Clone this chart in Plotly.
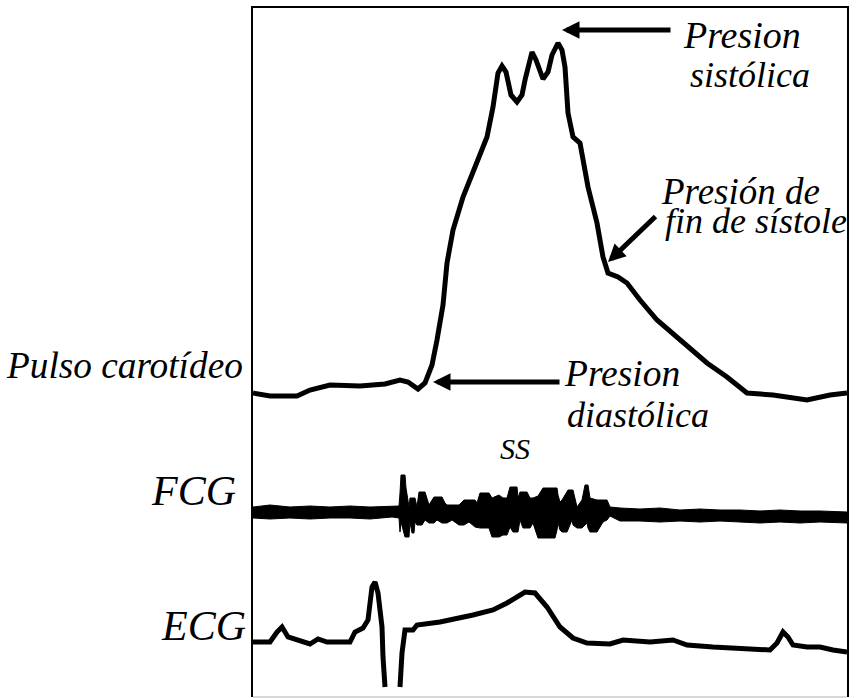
import plotly.graph_objects as go

# Time axis (ms-like sample units) shared by the three recordings
# Carotid pulse
pulse_t = [3, 20, 47, 60, 80, 110, 135, 150, 158, 168, 175, 182, 187, 193, 197, 203,
           213, 227, 237, 243, 248, 252, 256, 261, 267, 272, 275, 282, 286, 293, 298,
           302, 308, 312, 315, 318, 323, 330, 338, 347, 353, 358, 368, 377, 390, 407,
           430, 457, 477, 497, 523, 557, 580, 597]
pulse_v = [307, 304, 304, 310, 315, 314, 316, 320, 318, 311, 317, 335, 360, 395, 437, 470,
           503, 537, 563, 593, 627, 634, 628, 605, 598, 605, 620, 648, 640, 621, 628,
           645, 657, 650, 633, 587, 563, 557, 513, 477, 443, 427, 423, 417, 400, 380,
           360, 337, 323, 307, 305, 300, 305, 307]

# Phonocardiogram: upper and lower envelope of the recorded vibrations
fcg_t = [3, 20, 40, 60, 80, 100, 120, 142, 149, 150, 151, 155, 156, 159, 160, 162, 164,
         165, 167, 169, 172, 175, 179, 184, 187, 192, 195, 197, 202, 209, 214, 219, 225,
         227, 230, 239, 242, 249, 253, 257, 260, 263, 267, 268, 270, 273, 277, 280, 283,
         288, 293, 297, 305, 307, 308, 310, 312, 317, 318, 322, 323, 327, 332, 335, 337,
         338, 340, 347, 353, 357, 360, 370, 390, 410, 430, 450, 470, 490, 510, 530, 550,
         570, 597]
fcg_upper = [193, 195, 193, 194, 193, 194, 193, 194, 194, 207, 225, 225, 212, 193, 202, 202, 202,
             202, 193, 208, 208, 208, 195, 203, 203, 203, 197, 195, 195, 195, 200, 200, 200,
             197, 207, 207, 202, 205, 202, 202, 213, 213, 213, 202, 208, 208, 208, 202, 202,
             204, 212, 212, 212, 212, 205, 198, 200, 208, 210, 210, 210, 193, 200, 215, 215,
             215, 202, 200, 200, 200, 193, 192, 191, 192, 190, 191, 190, 190, 189, 190, 189,
             189, 188]
fcg_lower = [182, 181, 182, 181, 182, 182, 181, 183, 182, 168, 178, 163, 163, 163, 178, 167, 167,
             178, 175, 175, 175, 180, 177, 177, 180, 177, 177, 177, 180, 175, 175, 178, 173,
             173, 172, 172, 163, 163, 165, 165, 173, 168, 168, 168, 180, 172, 172, 172, 177,
             162, 162, 162, 162, 170, 177, 170, 168, 168, 170, 180, 175, 172, 172, 175, 177,
             172, 168, 168, 178, 180, 184, 179, 179, 178, 179, 178, 179, 178, 177, 178, 177,
             178, 177]

# Electrocardiogram (the S wave runs off the strip, hence the gap)
ecg_t = [3, 20, 27, 32, 38, 47, 60, 68, 77, 100, 105, 113, 118, 122, 125, 128, 132, 133, 135,
         None, 150, 152, 155, 163, 167, 190, 223, 243, 257, 275, 285, 297, 310, 323, 337,
         360, 373, 400, 423, 437, 463, 490, 520, 527, 533, 538, 543, 557, 570, 583, 597]
ecg_v = [58, 58, 68, 73, 63, 60, 56, 61, 58, 58, 68, 72, 80, 113, 118, 107, 73, 43, 13,
         None, 13, 47, 70, 70, 75, 78, 85, 90, 97, 108, 107, 93, 73, 62, 57,
         56, 60, 58, 60, 55, 53, 52, 50, 57, 68, 63, 55, 53, 53, 50, 48]

X_RANGE = [3, 597]
Y_RANGE = [3, 692]
FONT = "Liberation Serif, Times New Roman, serif"

fig = go.Figure()

fig.add_trace(go.Scatter(
    x=fcg_t + fcg_t[::-1], y=fcg_upper + fcg_lower[::-1],
    mode="lines", fill="toself", fillcolor="black",
    line=dict(color="black", width=1), hoverinfo="skip", showlegend=False))

fig.add_trace(go.Scatter(
    x=pulse_t, y=pulse_v, mode="lines",
    line=dict(color="black", width=5), showlegend=False))

fig.add_trace(go.Scatter(
    x=ecg_t, y=ecg_v, mode="lines", connectgaps=False,
    line=dict(color="black", width=5), showlegend=False))

# Text labels: (text, x, y, x anchor, size)
labels = [
    ("Presion", 431, 665, "left", 38),
    ("sistólica", 438, 625, "left", 36),
    ("Presión de", 409, 509, "left", 37),
    ("fin de sístole", 413, 479, "left", 36),
    ("Presion", 312, 327, "left", 37.5),
    ("diastólica", 315, 285, "left", 36),
    ("SS", 265, 252, "center", 30),
]
for text, x, y, anchor, size in labels:
    fig.add_annotation(x=x, y=y, xref="x", yref="y", text=f"<i>{text}</i>",
                       showarrow=False, xanchor=anchor, yanchor="middle",
                       font=dict(family=FONT, size=size, color="black"))

side_labels = [
    ("Pulso carotídeo", -0.0135, 335, 37.3),
    ("FCG", -0.0253, 209, 42),
    ("ECG", -0.0084, 74, 42),
]
for text, xp, y, size in side_labels:
    fig.add_annotation(x=xp, y=y, xref="paper", yref="y", text=f"<i>{text}</i>",
                       showarrow=False, xanchor="right", yanchor="middle",
                       font=dict(family=FONT, size=size, color="black"))

# Pointer arrows: (tip x, tip y, tail x, tail y)
arrows = [
    (312, 670, 422, 670),
    (358, 438, 407, 485),
    (183, 318, 311, 318),
]
for x, y, ax, ay in arrows:
    fig.add_annotation(x=x, y=y, ax=ax, ay=ay, xref="x", yref="y", axref="x", ayref="y",
                       text="", showarrow=True, arrowhead=2, arrowsize=0.7,
                       arrowwidth=5, arrowcolor="black", standoff=0, startstandoff=0)

# Frame: dark top/left/right edges, faint bottom edge
fig.update_xaxes(range=X_RANGE, side="top", showgrid=False, zeroline=False,
                 showticklabels=False, ticks="", showline=True, linecolor="black",
                 linewidth=2, mirror=False)
fig.update_yaxes(range=Y_RANGE, showgrid=False, zeroline=False, showticklabels=False,
                 ticks="", showline=True, linecolor="black", linewidth=2, mirror=True)
fig.add_shape(type="line", xref="paper", yref="paper", x0=0, x1=1, y0=0, y1=0,
              line=dict(color="#b0b0b0", width=1))

fig.update_layout(
    width=861, height=698,
    margin=dict(l=253, r=14, t=8, b=1),
    paper_bgcolor="white", plot_bgcolor="white",
    showlegend=False,
)

fig.write_html("out.html")
